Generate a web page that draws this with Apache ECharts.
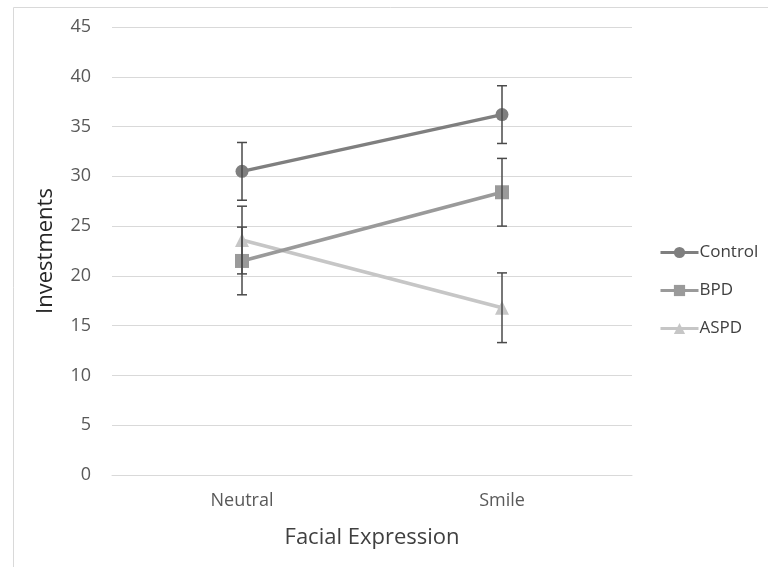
<!DOCTYPE html>
<html><head><meta charset="utf-8">
<script src="https://cdn.jsdelivr.net/npm/echarts@6/dist/echarts.min.js"></script>
<style>html,body{margin:0;padding:0;background:#fff}#c{width:768px;height:567px}</style>
</head><body><div id="c"></div>
<script>
const categories = ['Neutral', 'Smile'];
const control = [30.5, 36.2];
const controlErr = [2.9, 2.9];
const bpd = [21.5, 28.4];
const bpdErr = [3.4, 3.4];
const aspd = [23.6, 16.8];
const aspdErr = [3.4, 3.5];

const font = '"Open Sans", "Noto Sans", sans-serif';
const chart = echarts.init(document.getElementById('c'));

function errSeries(name, vals, errs, z) {
  return {
    type: 'custom', name: name + '_err', z: z,
    data: vals.map((v, i) => [i, v - errs[i], v + errs[i]]),
    renderItem: function (params, api) {
      const x = api.value(0);
      const lo = api.coord([x, api.value(1)]);
      const hi = api.coord([x, api.value(2)]);
      const w = 5;
      const st = { stroke: '#4a4a4a', lineWidth: 1.5 };
      return { type: 'group', children: [
        { type: 'line', shape: { x1: lo[0], y1: lo[1], x2: hi[0], y2: hi[1] }, style: st },
        { type: 'line', shape: { x1: lo[0] - w, y1: lo[1], x2: lo[0] + w, y2: lo[1] }, style: st },
        { type: 'line', shape: { x1: hi[0] - w, y1: hi[1], x2: hi[0] + w, y2: hi[1] }, style: st }
      ]};
    },
    silent: true, tooltip: { show: false }
  };
}

function lineSeries(name, vals, color, symbol, size, z) {
  return {
    type: 'line', name: name, data: vals, z: z,
    symbol: symbol, symbolSize: size,
    lineStyle: { color: color, width: 3.5 },
    itemStyle: { color: color },
    animation: false
  };
}

chart.setOption({
  animation: false,
  grid: { left: 112, right: 136, top: 27, bottom: 92 },
  graphic: [
    { type: 'line', shape: { x1: 13.5, y1: 7.5, x2: 13.5, y2: 567 }, style: { stroke: '#d9d9d9', lineWidth: 1 } },
    { type: 'line', shape: { x1: 13.5, y1: 7.5, x2: 768, y2: 7.5 }, style: { stroke: '#d9d9d9', lineWidth: 1 } }
  ],
  legend: {
    orient: 'vertical', left: 659, top: 244, padding: 0,
    itemWidth: 38, itemHeight: 14, itemGap: 21,
    lineStyle: { width: 3 },
    data: ['Control', 'BPD', 'ASPD'],
    textStyle: { fontFamily: font, fontSize: 17, color: '#404040', padding: [0, 0, 0, -4] }
  },
  xAxis: {
    type: 'category', data: categories,
    axisLine: { show: true, lineStyle: { color: '#d9d9d9' } },
    axisTick: { show: false },
    axisLabel: { fontFamily: font, fontSize: 18, color: '#595959', margin: 17 },
    name: 'Facial Expression', nameLocation: 'middle', nameGap: 52,
    nameTextStyle: { fontFamily: font, fontSize: 22, color: '#404040' }
  },
  yAxis: {
    type: 'value', min: 0, max: 45, interval: 5,
    axisLine: { show: false }, axisTick: { show: false },
    splitLine: { lineStyle: { color: '#d9d9d9', width: 1 } },
    axisLabel: { fontFamily: font, fontSize: 18, color: '#595959', margin: 21 },
    name: 'Investments', nameLocation: 'middle', nameGap: 55,
    nameTextStyle: { fontFamily: font, fontSize: 22, color: '#262626' }
  },
  series: [
    lineSeries('Control', control, '#7f7f7f', 'circle', 13, 5),
    lineSeries('BPD', bpd, '#9a9a9a', 'rect', 14, 4),
    lineSeries('ASPD', aspd, '#c6c6c6', 'triangle', 14, 3),
    errSeries('Control', control, controlErr, 6),
    errSeries('BPD', bpd, bpdErr, 6),
    errSeries('ASPD', aspd, aspdErr, 6)
  ]
});
</script></body></html>
